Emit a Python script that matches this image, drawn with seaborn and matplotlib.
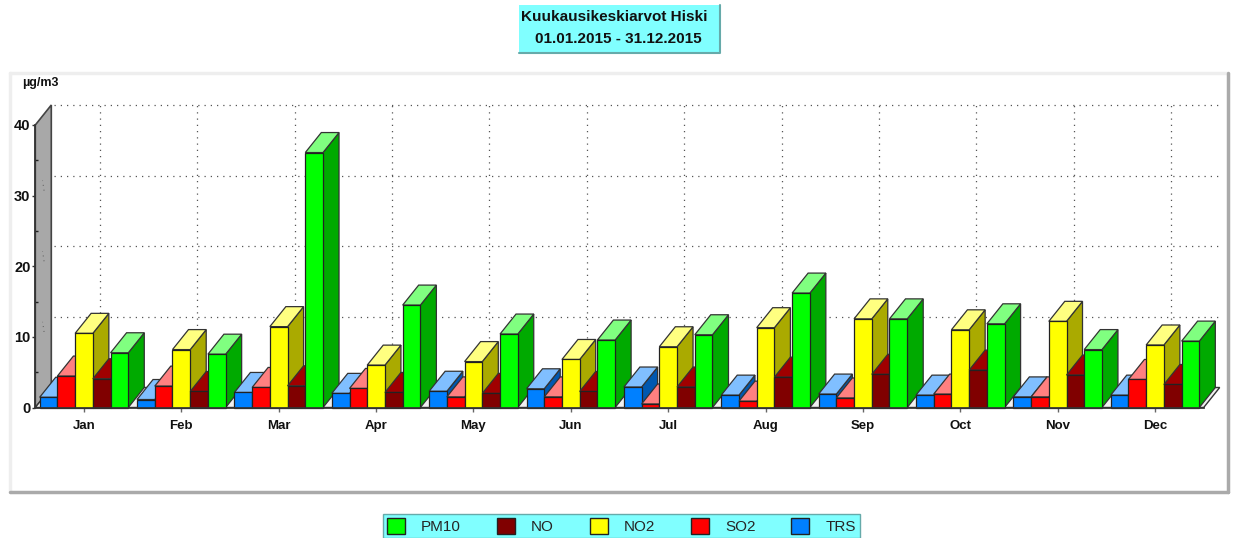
import numpy as np
import pandas as pd
import matplotlib
matplotlib.use('Agg')
import matplotlib.pyplot as plt
from matplotlib.patches import Polygon, Rectangle, Patch
from matplotlib.lines import Line2D
import seaborn as sns

months = ['Jan', 'Feb', 'Mar', 'Apr', 'May', 'Jun', 'Jul', 'Aug', 'Sep', 'Oct', 'Nov', 'Dec']
trs = [1.45, 1.13, 2.13, 2.0, 2.3, 2.65, 2.9, 1.75, 1.9, 1.75, 1.5, 1.75]
so2 = [4.45, 3.03, 2.84, 2.7, 1.5, 1.5, 0.5, 0.9, 1.35, 1.9, 1.5, 3.97]
no2 = [10.5, 8.2, 11.45, 6.0, 6.5, 6.8, 8.6, 11.3, 12.55, 11.0, 12.2, 8.85]
no = [4.07, 2.27, 3.07, 2.13, 2.0, 2.27, 2.9, 4.3, 4.7, 5.3, 4.6, 3.26]
pm10 = [7.75, 7.55, 36.1, 14.5, 10.4, 9.55, 10.3, 16.2, 12.55, 11.85, 8.2, 9.4]

names = ['TRS', 'SO2', 'NO2', 'NO', 'PM10']
front = {'TRS': '#0080ff', 'SO2': '#ff0000', 'NO2': '#ffff00', 'NO': '#800000', 'PM10': '#00ff00'}
top = {'TRS': '#80bfff', 'SO2': '#ff8080', 'NO2': '#ffff80', 'NO': '#a00000', 'PM10': '#80ff80'}
side = {'TRS': '#0058b0', 'SO2': '#b00000', 'NO2': '#aaaa00', 'NO': '#a00000', 'PM10': '#00aa00'}

W, H = 1234, 538
def fx(p):
    return p / W
def fy(p):
    return 1 - p / H

df = pd.DataFrame({'month': months * 5,
                   'pollutant': np.repeat(names, 12),
                   'value': trs + so2 + no2 + no + pm10})

sns.set_theme(style='white')
plt.rcParams['font.family'] = ['Liberation Sans', 'DejaVu Sans']

fig = plt.figure(figsize=(W / 100, H / 100), dpi=100, facecolor='white')

# plot panel frame
fig.add_artist(Rectangle((fx(10), fy(492)), 1218 / W, 419 / H, transform=fig.transFigure,
                         facecolor='white', edgecolor='none', zorder=-5))
for xs, ys, c in [((10, 10), (492, 73), '#eeeeee'), ((10, 1228), (73, 73), '#eeeeee'),
                  ((10, 1228), (492, 492), '#aaaaaa'), ((1228, 1228), (73, 492), '#aaaaaa')]:
    fig.add_artist(Line2D([fx(x) for x in xs], [fy(y) for y in ys], color=c, lw=2.5, zorder=-4))

# axes: front plane, 0..40 is 407.5..125 px
x0, x1 = 35.3, 1203.7
ax = fig.add_axes([fx(x0), fy(407.5), (x1 - x0) / W, (407.5 - 125) / H])
ax.patch.set_alpha(0)
sns.barplot(data=df, x='month', y='value', hue='pollutant', hue_order=names, palette=front,
            width=0.91, gap=0, saturation=1, edgecolor='#222222', linewidth=0.9,
            errorbar=None, legend=False, ax=ax)
ax.set_xlim(-0.5, 11.5)
ax.set_ylim(0, 40)

# depth of the 3d box in data units
dx = 16 / ((x1 - x0) / 12)
dy = 20 / ((407.5 - 125) / 40)

# walls and floor
ax.add_patch(Polygon([(-0.5, 0), (-0.5 + dx, dy), (-0.5 + dx, 40 + dy), (-0.5, 40)], closed=True,
                     facecolor='#a8a8a8', edgecolor='#444444', lw=1.2, clip_on=False, zorder=0.5))
ax.add_patch(Polygon([(-0.5, 0), (-0.5 + dx, dy), (11.5 + dx, dy), (11.5, 0)], closed=True,
                     facecolor='#f0f0f0', edgecolor='#333333', lw=1, clip_on=False, zorder=0.6))

# dotted grid on the back wall
dots = (0, (1, 4))
for v in [10, 20, 30, 40]:
    ax.plot([-0.5 + dx + 0.03, 11.5 + dx], [v + dy, v + dy], color='#555555', lw=0.9, ls=dots,
            clip_on=False, zorder=0.4)
    if v < 40:
        ax.plot([-0.5 + 0.09, -0.5 + dx - 0.09], [v + dy * 0.25, v + dy * 0.75], color='#555555', lw=0.7, ls=dots,
                clip_on=False, zorder=0.7)
for i in range(12):
    ax.plot([i + dx, i + dx], [dy, 40 + dy], color='#555555', lw=0.9, ls=dots, clip_on=False, zorder=0.4)

# side and top faces, built from the bars seaborn drew
for j, (name, cont) in enumerate(zip(names, ax.containers)):
    for i, bar in enumerate(cont.patches):
        x = bar.get_x()
        w = bar.get_width()
        h = bar.get_height()
        z = 2 + i + j * 0.1
        ax.add_patch(Polygon([(x + w, 0), (x + w + dx, dy), (x + w + dx, h + dy), (x + w, h)], closed=True,
                             facecolor=side[name], edgecolor='#333333', lw=0.9, clip_on=False, zorder=z))
        ax.add_patch(Polygon([(x, h), (x + dx, h + dy), (x + w + dx, h + dy), (x + w, h)], closed=True,
                             facecolor=top[name], edgecolor='#333333', lw=0.9, clip_on=False, zorder=z))
        bar.set_zorder(z + 0.05)
        bar.set_clip_on(False)

sns.despine(ax=ax, left=False, bottom=False, top=True, right=True)
ax.spines['left'].set_color('#333333')
ax.spines['bottom'].set_color('#333333')
ax.spines['left'].set_zorder(20)
ax.spines['bottom'].set_zorder(40)
ax.set_xlabel('')
ax.set_ylabel('')
ax.set_yticks([0, 10, 20, 30, 40])
ax.set_yticks([5, 15, 25, 35], minor=True)
ax.tick_params(axis='y', which='major', left=True, length=2, width=1, color='#333333', pad=1.5, labelsize=10.5)
ax.tick_params(axis='y', which='minor', left=True, direction='in', length=2.5, width=1, color='#222222')
ax.tick_params(axis='x', bottom=True, length=3, width=1, color='#666666', pad=6, labelsize=9.5)
for t in ax.get_xticklabels() + ax.get_yticklabels():
    t.set_fontweight('bold')
    t.set_color('#111111')

fig.text(fx(22), fy(83), 'µg/m3', fontsize=9, fontweight='bold', color='#111111', va='center')

# title box
fig.add_artist(Rectangle((fx(519), fy(53)), 201 / W, 48 / H, transform=fig.transFigure,
                         facecolor='#80ffff', edgecolor='none', zorder=1))
fig.add_artist(Line2D([fx(519), fx(720), fx(720)], [fy(53), fy(53), fy(5)], color='#66aaaa', lw=1.5, zorder=1))
fig.text(fx(521), fy(17), 'Kuukausikeskiarvot Hiski', fontsize=11, fontweight='bold', color='#111111',
         va='center', zorder=2)
fig.text(fx(535), fy(39), '01.01.2015 - 31.12.2015', fontsize=11, fontweight='bold', color='#111111',
         va='center', zorder=2)

# legend box
handles = [Patch(facecolor=front[n], edgecolor='#222222', label=n) for n in names[::-1]]
leg = fig.legend(handles=handles, ncol=5, loc='lower left', bbox_to_anchor=(fx(383), fy(538)),
                 facecolor='#80ffff', edgecolor='#66aaaa', fancybox=False, framealpha=1,
                 fontsize=11, handlelength=1.18, handleheight=1.2, handletextpad=1.05, columnspacing=2.35,
                 borderpad=0.25, borderaxespad=0)

fig.savefig('out.png', dpi=100)
